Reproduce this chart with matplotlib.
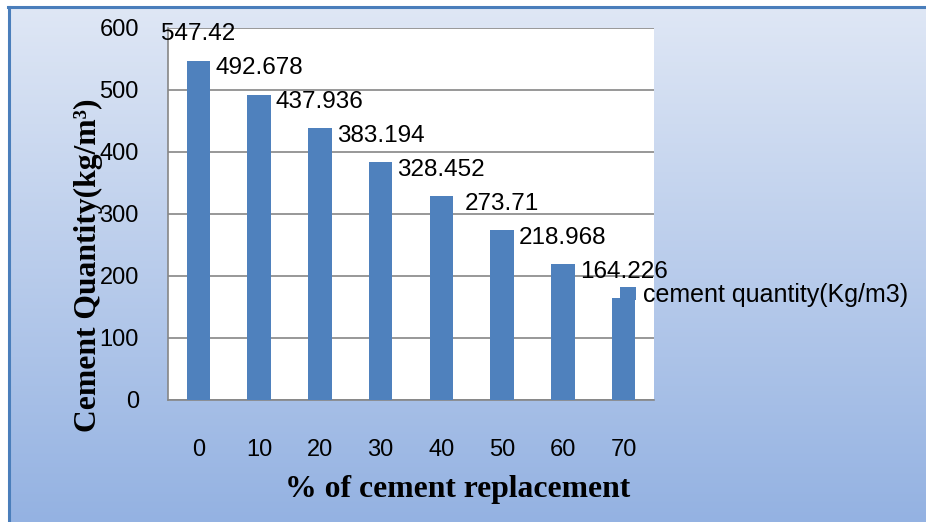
import numpy as np
import matplotlib
matplotlib.use("Agg")
import matplotlib.pyplot as plt
from matplotlib.lines import Line2D

categories = ["0", "10", "20", "30", "40", "50", "60", "70"]
quantity = [547.42, 492.678, 437.936, 383.194, 328.452, 273.71, 218.968, 164.226]
value_labels = ["547.42", "492.678", "437.936", "383.194", "328.452", "273.71", "218.968", "164.226"]
series_name = "cement quantity(Kg/m3)"

sans = ["Liberation Sans", "DejaVu Sans"]
serif = ["Liberation Serif", "DejaVu Serif"]
bar_color = "#4F81BD"
grid_color = "#868686"

fig = plt.figure(figsize=(9.26, 5.22), dpi=100)
fig.patch.set_facecolor("white")

# gradient background (pixels), blue frame on left/top
h, w = 515, 918
t = np.linspace(0, 1, h)[:, None, None]
top_c = np.array([0xdf, 0xe7, 0xf5]) / 255
bot_c = np.array([0x94, 0xb2, 0xe2]) / 255
img = np.broadcast_to(top_c * (1 - t) + bot_c * t, (h, w, 3))
fig.figimage(img, xo=8, yo=0, origin="upper", zorder=-1)
fig.add_artist(Line2D([9 / 926, 9 / 926], [0, 1 - 6.5 / 522], transform=fig.transFigure,
                      color="#4A7EBB", lw=2.2))
fig.add_artist(Line2D([8 / 926, 1.01], [1 - 6.5 / 522, 1 - 6.5 / 522], transform=fig.transFigure,
                      color="#4A7EBB", lw=2.2))

ax = fig.add_axes([168 / 926, 1 - 400 / 522, (654 - 168) / 926, (400 - 28) / 522])
ax.set_zorder(2)
ax.set_facecolor("white")
x = np.arange(len(categories))
bars = ax.bar(x, quantity, width=0.39, color=bar_color, label=series_name, zorder=3)
ax.set_xlim(-0.5, len(categories) - 0.5)
ax.set_ylim(0, 600)
ax.set_yticks(range(0, 601, 100))
ax.set_xticks(x)
ax.set_xticklabels(categories)
ax.yaxis.grid(True, color=grid_color, lw=1.2, zorder=0)
ax.set_axisbelow(True)
for s in ["top", "right"]:
    ax.spines[s].set_visible(False)
for s in ["left", "bottom"]:
    ax.spines[s].set_color(grid_color)
    ax.spines[s].set_linewidth(1.2)
ax.tick_params(axis="both", length=0, labelsize=17)
ax.tick_params(axis="y", pad=21)
ax.tick_params(axis="x", pad=28)
for lab in ax.get_xticklabels() + ax.get_yticklabels():
    lab.set_family(sans)

for xi, v, txt in zip(x, quantity, value_labels):
    ax.annotate(txt, (xi, v), xytext=(0, 19), textcoords="offset points",
                ha="center", va="center", fontsize=17.5, family=sans, zorder=5,
                annotation_clip=False)

fig.text(96 / 926, 1 - 265 / 522, "Cement Quantity(kg/m\u00b3)", rotation=90,
         rotation_mode="anchor", ha="center", va="baseline", zorder=3,
         fontsize=22.8, fontweight="bold", family=serif)
fig.text(458 / 926, 1 - 497 / 522, "% of cement replacement", zorder=3,
         ha="center", va="baseline", fontsize=22.8, fontweight="bold", family=serif)

leg = fig.legend(loc="center left", bbox_to_anchor=(620 / 926, 1 - 295 / 522),
                 frameon=False, handlelength=0.62, handleheight=0.43, handletextpad=0.3,
                 borderpad=0, borderaxespad=0, prop={"family": sans, "size": 18})
leg.set_zorder(4)

fig.savefig("out.png", dpi=100)
